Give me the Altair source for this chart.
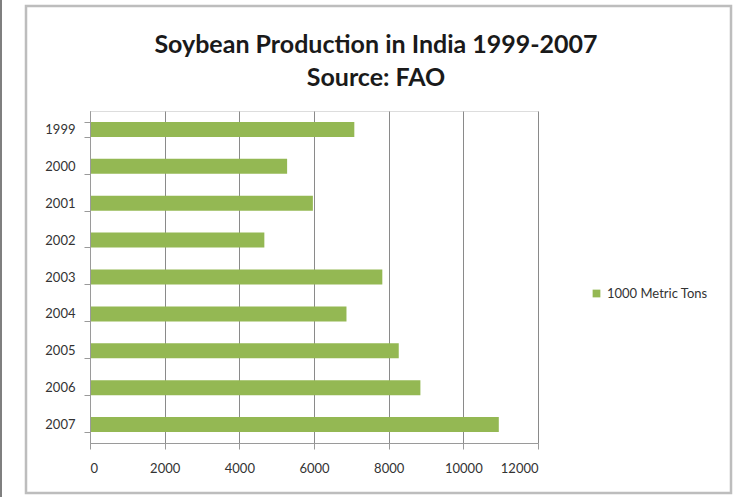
import altair as alt
import pandas as pd

years = ["1999", "2000", "2001", "2002", "2003", "2004", "2005", "2006", "2007"]
production = [7080, 5280, 5970, 4670, 7830, 6870, 8270, 8850, 10950]
series = ["1000 Metric Tons"] * len(years)
title_lines = ["Soybean Production in India 1999-2007", "Source: FAO"]
x_ticks = [0, 2000, 4000, 6000, 8000, 10000, 12000]

df = pd.DataFrame({"year": years, "value": production, "series": series})

W, H = 448, 332
PL, PT = 90, 111

one = pd.DataFrame({"a": [0]})

frame = alt.Chart(one).mark_rect(
    fill="white", fillOpacity=0, stroke="#bdbdbd", strokeWidth=2.5
).encode(
    x=alt.value(26 - PL), x2=alt.value(731 - PL),
    y=alt.value(6 - PT), y2=alt.value(493 - PT),
)

edge = alt.Chart(one).mark_rule(color="#555555", strokeWidth=1.5).encode(
    x=alt.value(1 - PL), y=alt.value(-PT), y2=alt.value(497 - PT)
)

t1 = alt.Chart(one).mark_text(
    font="Lato", fontSize=25, fontWeight="bold", color="#1a1a1a",
    align="center", baseline="middle"
).encode(x=alt.value(376 - PL), y=alt.value(45 - PT), text=alt.value(title_lines[0]))

t2 = alt.Chart(one).mark_text(
    font="Lato", fontSize=25, fontWeight="bold", color="#1a1a1a",
    align="center", baseline="middle"
).encode(x=alt.value(376 - PL), y=alt.value(78 - PT), text=alt.value(title_lines[1]))

bars = alt.Chart(df).mark_bar(color="#94b853", size=15).encode(
    y=alt.Y("year:N", sort=years, title=None,
            scale=alt.Scale(paddingInner=0.6, paddingOuter=0.3),
            axis=alt.Axis(labelFont="Lato", labelFontSize=13, labelColor="#333333",
                          labelPadding=9, tickBand="extent", tickSize=6,
                          tickColor="#9a9a9a", domainColor="#9a9a9a", grid=False,
                          zindex=1)),
    x=alt.X("value:Q", title=None,
            scale=alt.Scale(domain=[0, 12000], nice=False),
            axis=alt.Axis(values=x_ticks, format="d",
                          labelFont="Lato", labelFontSize=13, labelColor="#333333",
                          labelPadding=13, tickSize=6, tickColor="#9a9a9a",
                          domainColor="#9a9a9a", grid=True, gridColor="#8a8a8a",
                          gridWidth=1, zindex=0)),
    color=alt.Color("series:N",
                    scale=alt.Scale(range=["#94b853"]),
                    legend=alt.Legend(title=None, orient="none", legendX=500, legendY=176,
                                      symbolType="square", symbolSize=60,
                                      labelFont="Lato", labelFontSize=13,
                                      labelColor="#333333")),
)

chart = alt.layer(edge, frame, bars, t1, t2).properties(
    width=W, height=H,
    autosize=alt.AutoSizeParams(type="none"),
    padding={"left": PL, "top": PT, "right": 742 - PL - W, "bottom": 497 - PT - H},
).configure_view(stroke=None).configure(background="white")

chart.save("out.html", embed_options={"renderer": "svg", "actions": False})
